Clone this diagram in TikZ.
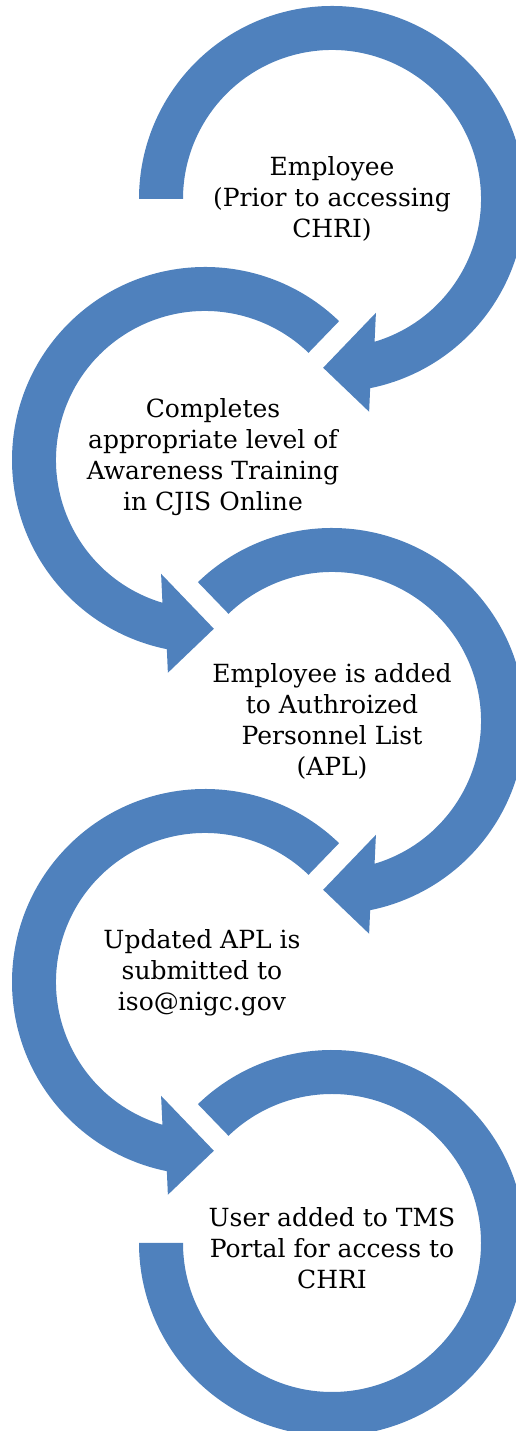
\documentclass[tikz,border=0pt]{standalone}
\usepackage{fontspec}
\setmainfont{DejaVu Serif}
\definecolor{sablue}{HTML}{4F81BD}
\tikzset{
  ringfill/.style={fill=sablue},
  steptext/.style={align=center, font=\fontsize{25}{31}\selectfont, text=black, inner sep=0pt}
}
\begin{document}
\begin{tikzpicture}[x=1pt,y=1pt]
\useasboundingbox (0,0) rectangle (515,1431);
% ring 1 (clockwise, starts at left)
\fill[ringfill, shift={(332,1232)}] (180:149) -- (180:193)
  arc[start angle=180, end angle=-78.6, radius=193]
  -- (-80.1:216) -- (-93:169) -- (-68.9:122) -- (-73.4:149)
  arc[start angle=-73.4, end angle=180, radius=149] -- cycle;
% ring 2 (counter-clockwise)
\fill[ringfill, shift={(205,971)}] (46:149) -- (46:193)
  arc[start angle=46, end angle=258.6, radius=193]
  -- (260.1:216) -- (273:169) -- (248.9:122) -- (253.4:149)
  arc[start angle=253.4, end angle=46, radius=149] -- cycle;
% ring 3 (clockwise)
\fill[ringfill, shift={(332,710)}] (134:149) -- (134:193)
  arc[start angle=134, end angle=-78.6, radius=193]
  -- (-80.1:216) -- (-93:169) -- (-68.9:122) -- (-73.4:149)
  arc[start angle=-73.4, end angle=134, radius=149] -- cycle;
% ring 4 (counter-clockwise)
\fill[ringfill, shift={(205,449)}] (46:149) -- (46:193)
  arc[start angle=46, end angle=258.6, radius=193]
  -- (260.1:216) -- (273:169) -- (248.9:122) -- (253.4:149)
  arc[start angle=253.4, end angle=46, radius=149] -- cycle;
% ring 5 (clockwise, ends at left)
\fill[ringfill, shift={(332,188)}] (134:149) -- (134:193)
  arc[start angle=134, end angle=-180, radius=193]
  -- (-180:149)
  arc[start angle=-180, end angle=134, radius=149] -- cycle;
% texts
\node[steptext] (t1) at (332,1232) {Employee\\(Prior to accessing\\CHRI)};
\node[steptext] (t2) at (213,974) {Completes\\appropriate level of\\Awareness Training\\in CJIS Online};
\node[steptext] (t3) at (332,710) {Employee is added\\to Authroized\\Personnel List\\(APL)};
\node[steptext] (t4) at (202,458) {Updated APL is\\submitted to\\iso@nigc.gov};
\node[steptext] (t5) at (332,183) {User added to TMS\\Portal for access to\\CHRI};
\end{tikzpicture}
\end{document}
